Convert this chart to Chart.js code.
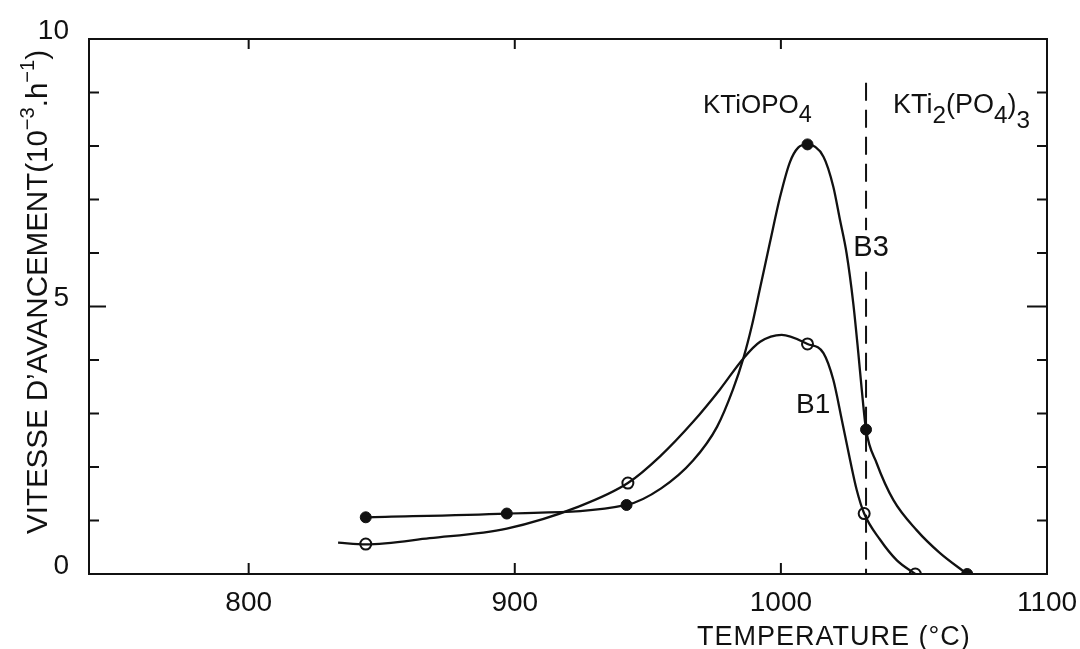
<!DOCTYPE html>
<html>
<head>
<meta charset="utf-8">
<script src="https://cdn.jsdelivr.net/npm/chart.js@4.4.1/dist/chart.umd.min.js"></script>
<style>
    html, body { margin: 0; padding: 0; background: #fff; }
    #wrap { width: 1080px; height: 649px; }
</style>
</head>
<body>
<div id="wrap"><canvas id="chart" width="1080" height="649"></canvas></div>
<script>
const xTicks = [800, 900, 1000, 1100];
const yLabelled = [0, 5, 10];
const yMinor = [1, 2, 3, 4, 5, 6, 7, 8, 9];

// measured points
const b3Temp = [844, 897, 942, 1010, 1032, 1070];
const b3Rate = [1.06, 1.13, 1.29, 8.03, 2.7, 0];
const b1Temp = [844, 942.5, 1010, 1031.3, 1050.5];
const b1Rate = [0.56, 1.7, 4.3, 1.13, 0];

// hand-drawn curves
const b3CurveTemp = [844, 897, 942, 955, 967, 976, 982, 986, 989, 992.2, 995.9, 999.7, 1003.4, 1006.5, 1010, 1016, 1019.7, 1022.2, 1024.7, 1027.2, 1029.1, 1030.4, 1032, 1036, 1042.3, 1051, 1059.8, 1070];
const b3CurveRate = [1.06, 1.13, 1.29, 1.6, 2.12, 2.75, 3.45, 4.05, 4.62, 5.35, 6.2, 7.05, 7.7, 7.97, 8.03, 7.8, 7.24, 6.62, 5.99, 5.06, 4.13, 3.44, 2.7, 2.07, 1.38, 0.82, 0.39, 0];
const b1CurveTemp = [833.6, 844, 868, 897, 924, 942.5, 954.6, 967.1, 977.1, 985.9, 992.2, 1000.3, 1010, 1016, 1019.7, 1022.9, 1026, 1028.5, 1031.3, 1037.3, 1043.5, 1050.5];
const b1CurveRate = [0.585, 0.555, 0.67, 0.85, 1.26, 1.7, 2.2, 2.85, 3.45, 4.03, 4.34, 4.47, 4.3, 4.13, 3.63, 2.88, 2.13, 1.57, 1.13, 0.64, 0.26, 0];

// KTiOPO4 / KTi2(PO4)3 boundary
const boundaryTemp = 1032;
const boundaryTop = 9.18;

const FONT = "'Liberation Sans', Arial, sans-serif";
const INK = "#111";

const pts = (xs, ys) => xs.map((v, i) => ({ x: v, y: ys[i] }));

// text made of runs: [text, shift] shift 0 normal, 1 sub, 2 lower sub, -1 sup
function runStyle(shift, size) {
    if (shift === 1) return { s: size * 0.9, dy: size * 0.36 };
    if (shift === 2) return { s: size * 0.9, dy: size * 0.56 };
    if (shift === -1) return { s: size * 0.68, dy: -size * 0.42 };
    return { s: size, dy: 0 };
}

function measureRuns(ctx, runs, size) {
    let w = 0;
    runs.forEach(([t, shift]) => {
        ctx.font = runStyle(shift, size).s + "px " + FONT;
        w += ctx.measureText(t).width;
    });
    return w;
}

function drawRuns(ctx, x, y, runs, size) {
    let cx = x;
    runs.forEach(([t, shift]) => {
        const st = runStyle(shift, size);
        ctx.font = st.s + "px " + FONT;
        ctx.fillText(t, cx, y + st.dy);
        cx += ctx.measureText(t).width;
    });
}

const framePlugin = {
    id: "frame",
    afterDatasetsDraw(chart) {
        const { ctx, chartArea: a, scales } = chart;
        const x = scales.x, y = scales.y;
        ctx.save();
        ctx.strokeStyle = INK;
        ctx.lineWidth = 2;
        ctx.strokeRect(a.left, a.top, a.right - a.left, a.bottom - a.top);
        ctx.beginPath();
        xTicks.forEach((v) => {
            const px = x.getPixelForValue(v);
            if (px >= a.right - 2) return;
            ctx.moveTo(px, a.bottom);
            ctx.lineTo(px, a.bottom - 11);
            ctx.moveTo(px, a.top);
            ctx.lineTo(px, a.top + 10);
        });
        yMinor.forEach((v) => {
            const py = y.getPixelForValue(v);
            ctx.moveTo(a.left, py);
            ctx.lineTo(a.left + (v === 5 ? 17 : 10), py);
            ctx.moveTo(a.right, py);
            ctx.lineTo(a.right - (v === 5 ? 20 : 10), py);
        });
        ctx.stroke();
        ctx.restore();
    },
};

const textPlugin = {
    id: "labels",
    afterDraw(chart) {
        const { ctx, chartArea: a, scales } = chart;
        const x = scales.x, y = scales.y;
        ctx.save();
        ctx.fillStyle = INK;
        ctx.textBaseline = "alphabetic";
        ctx.textAlign = "left";

        drawRuns(ctx, x.getPixelForValue(970.7), y.getPixelForValue(8.62),
            [["KTiOPO", 0], ["4", 1]], 26);
        drawRuns(ctx, x.getPixelForValue(1042.1), y.getPixelForValue(8.62),
            [["KTi", 0], ["2", 1], ["(PO", 0], ["4", 1], [")", 0], ["3", 2]], 27);

        // B3 sits on a gap in the dashed line
        ctx.font = "29px " + FONT;
        const bx = x.getPixelForValue(1033.9), by = y.getPixelForValue(6.09);
        const bw = ctx.measureText("B3").width;
        ctx.fillStyle = "#fff";
        ctx.fillRect(bx - bw / 2 - 2, by - 18, bw + 4, 36);
        ctx.fillStyle = INK;
        ctx.textAlign = "center";
        ctx.textBaseline = "middle";
        ctx.fillText("B3", bx, by);
        ctx.font = "28px " + FONT;
        ctx.fillText("B1", x.getPixelForValue(1012.1), y.getPixelForValue(3.16));

        // axis titles
        ctx.textAlign = "left";
        ctx.textBaseline = "alphabetic";
        ctx.font = "27px " + FONT;
        ctx.letterSpacing = "1px";
        ctx.fillText("TEMPERATURE (°C)", x.getPixelForValue(968.5), a.bottom + 71);
        ctx.letterSpacing = "0px";

        // the lettering is tall and narrow: squeeze to the drawn length
        const yTitle = [["VITESSE D’AVANCEMENT(10", 0], ["−3", -1], [".h", 0], ["−1", -1], [")", 0]];
        const span = (a.bottom - 40) - (a.top + 11);
        const w = measureRuns(ctx, yTitle, 30);
        ctx.translate(a.left - 42, a.bottom - 40);
        ctx.rotate(-Math.PI / 2);
        ctx.scale(span / w, 1);
        drawRuns(ctx, 0, 0, yTitle, 30);
        ctx.restore();
    },
};

new Chart(document.getElementById("chart"), {
    type: "line",
    data: {
        datasets: [
            {
                data: pts(b3CurveTemp, b3CurveRate),
                borderColor: INK,
                borderWidth: 2.3,
                pointRadius: 0,
                cubicInterpolationMode: "monotone",
                fill: false,
            },
            {
                data: pts(b1CurveTemp, b1CurveRate),
                borderColor: INK,
                borderWidth: 2.3,
                pointRadius: 0,
                cubicInterpolationMode: "monotone",
                fill: false,
            },
            {
                data: [{ x: boundaryTemp, y: boundaryTop }, { x: boundaryTemp, y: 0 }],
                borderColor: INK,
                borderWidth: 2,
                borderDash: [18, 9],
                pointRadius: 0,
                fill: false,
            },
            {
                data: pts(b3Temp, b3Rate),
                showLine: false,
                pointRadius: 5.5,
                pointBackgroundColor: INK,
                pointBorderColor: INK,
                pointBorderWidth: 1,
            },
            {
                data: pts(b1Temp, b1Rate),
                showLine: false,
                pointRadius: 5.5,
                pointBackgroundColor: "#fff",
                pointBorderColor: INK,
                pointBorderWidth: 2,
            },
        ],
    },
    options: {
        responsive: false,
        animation: false,
        layout: { padding: { top: 39, right: 33, left: 0, bottom: 0 } },
        plugins: {
            legend: { display: false },
            tooltip: { enabled: false },
        },
        scales: {
            x: {
                type: "linear",
                min: 740,
                max: 1100,
                afterBuildTicks: (s) => { s.ticks = xTicks.map((v) => ({ value: v })); },
                afterFit: (s) => { s.height = 75; s.paddingLeft = 0; s.paddingRight = 0; },
                grid: { display: false },
                border: { display: false },
                ticks: {
                    font: { family: FONT, size: 28 },
                    color: INK,
                    padding: 4,
                    maxRotation: 0,
                    callback: (v) => String(v),
                },
            },
            y: {
                type: "linear",
                min: 0,
                max: 10,
                afterBuildTicks: (s) => { s.ticks = yLabelled.map((v) => ({ value: v })); },
                afterFit: (s) => { s.width = 89; s.paddingTop = 0; s.paddingBottom = 0; },
                grid: { display: false },
                border: { display: false },
                ticks: {
                    font: { family: FONT, size: 28 },
                    color: INK,
                    padding: 12,
                    labelOffset: -8,
                    callback: (v) => String(v),
                },
            },
        },
    },
    plugins: [framePlugin, textPlugin],
});
</script>
</body>
</html>
